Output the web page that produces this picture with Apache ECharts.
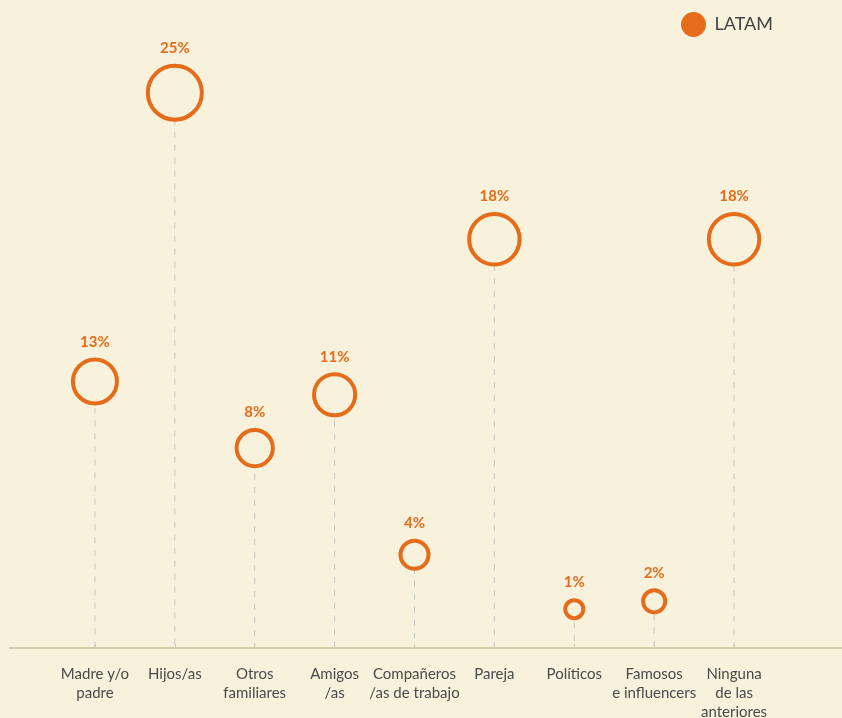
<!DOCTYPE html>
<html>
<head>
<meta charset="utf-8">
<script src="https://cdn.jsdelivr.net/npm/echarts@6/dist/echarts.min.js"></script>
<style>
    html, body { margin: 0; padding: 0; background: #f8f2dc; }
    #chartDiv { width: 842px; height: 718px; }
</style>
</head>
<body>
<div id="chartDiv"></div>
<script>
// categorias del eje x
var categories = ['Madre y/o\npadre', 'Hijos/as', 'Otros\nfamiliares', 'Amigos\n/as',
    'Compañeros\n/as de trabajo', 'Pareja', 'Políticos', 'Famosos\ne influencers',
    'Ninguna\nde las\nanteriores'];
// porcentaje que se muestra en la etiqueta
var percents = [13, 25, 8, 11, 4, 18, 1, 2, 18];
// altura (en %)
var levels = [12.0, 25.0, 9.0, 11.4, 4.2, 18.4, 1.75, 2.1, 18.4];

var orange = '#e46c1a';
var bg = '#f8f2dc';

function circleSize(v) {
    // diametro exterior aproximado, menos el borde
    return Math.min(58, 12 + 10 * Math.sqrt(v)) - 4;
}

var myChart = echarts.init(document.getElementById('chartDiv'));
myChart.setOption({
    backgroundColor: bg,
    animation: false,
    legend: {
        top: 7,
        left: 676,
        itemWidth: 32,
        itemHeight: 25,
        textStyle: { fontFamily: 'Lato', fontSize: 18, color: '#444' },
        data: [{ name: 'LATAM', icon: 'circle', itemStyle: { color: orange, borderWidth: 0 } }]
    },
    grid: {
        left: 55,
        right: 68,
        top: 26,
        bottom: 70,
        outerBoundsMode: 'none'
    },
    xAxis: {
        type: 'category',
        data: categories,
        axisLine: { show: false },
        axisTick: {
            show: true,
            inside: true,
            length: 4,
            alignWithLabel: true,
            lineStyle: { color: '#d3cfae', width: 1 }
        },
        axisLabel: {
            interval: 0,
            margin: 17,
            fontFamily: 'Lato',
            fontSize: 15,
            lineHeight: 19,
            color: '#4a4a4a'
        }
    },
    yAxis: {
        type: 'value',
        min: 0,
        max: 28,
        show: false
    },
    series: [
        {
            // linea base a lo ancho
            type: 'custom',
            silent: true,
            z: 1,
            data: [0],
            renderItem: function (params, api) {
                var y = api.coord([0, 0])[1];
                return {
                    type: 'line',
                    shape: { x1: 9, y1: y, x2: api.getWidth(), y2: y },
                    style: { stroke: '#d3cfae', lineWidth: 2 }
                };
            }
        },
        {
            // lineas punteadas verticales
            type: 'custom',
            silent: true,
            z: 2,
            data: levels.map(function (v, i) { return [i, v]; }),
            renderItem: function (params, api) {
                var top = api.coord([api.value(0), api.value(1)]);
                var base = api.coord([api.value(0), 0]);
                return {
                    type: 'line',
                    shape: { x1: top[0], y1: top[1], x2: base[0], y2: base[1] - 1 },
                    style: { stroke: '#c6c6c2', lineWidth: 1, lineDash: [6, 7] }
                };
            }
        },
        {
            name: 'LATAM',
            type: 'scatter',
            z: 3,
            data: levels.map(function (v, i) {
                return { value: [i, v], pct: percents[i] };
            }),
            symbol: 'circle',
            symbolSize: function (val, params) {
                return circleSize(percents[params.dataIndex]);
            },
            itemStyle: {
                color: bg,
                borderColor: orange,
                borderWidth: 4,
                opacity: 1
            },
            label: {
                show: true,
                position: 'top',
                distance: 8,
                fontFamily: 'Lato',
                fontWeight: 'bold',
                fontSize: 15,
                color: orange,
                formatter: function (p) {
                    return percents[p.dataIndex] + '%';
                }
            }
        }
    ]
});
</script>
</body>
</html>
